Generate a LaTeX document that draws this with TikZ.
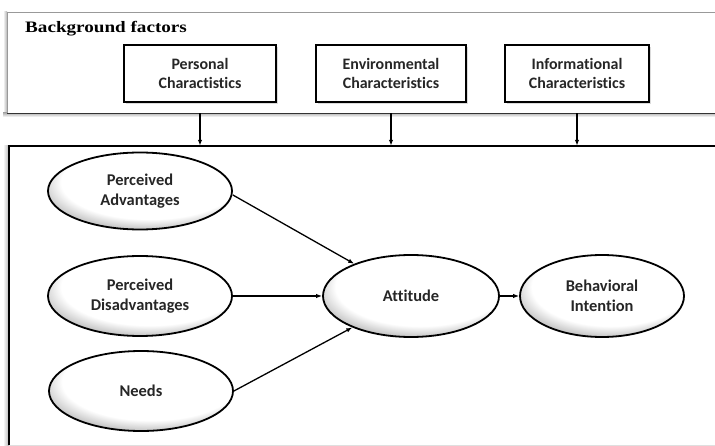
\documentclass[tikz,border=0pt]{standalone}
\usepackage{fontspec}
\setmainfont{Carlito}[Ligatures=CommonOff]
\newfontfamily\bgserif{Liberation Serif}
\usetikzlibrary{shapes.geometric,shadows,arrows.meta}
\pgfdeclareradialshading{ellshade}{\pgfpoint{5bp}{11bp}}{color(0bp)=(white); color(24bp)=(white); color(33bp)=(gray!75); color(50bp)=(gray!75)}
\tikzset{
  factorbox/.style={draw=black, line width=1.5bp, fill=white, minimum height=57bp,
    align=center, inner sep=0pt, text=black!85,
    font=\fontsize{16}{19.5}\selectfont\bfseries,
    drop shadow={shadow xshift=2bp, shadow yshift=-2bp, fill=gray!55}},
  oval/.style={ellipse, draw=black, line width=1.8bp, shade, shading=ellshade, inner sep=0pt,
    align=center, text=black!85, font=\fontsize{16.5}{19.5}\selectfont\bfseries},
  arr/.style={-{Latex[length=6bp,width=4.5bp]}, line width=1.3bp, black},
  framebox/.style={draw=none, fill=white, inner sep=0pt}
}
\begin{document}
\begin{tikzpicture}[x=1bp,y=-1bp]
\useasboundingbox (0,0) rectangle (715,446);
% background factors frame
\fill[left color=white, right color=gray!60] (3,12) rectangle (7,116);
\fill[top color=gray!60, bottom color=white] (3,113) rectangle (725,117);
\node[framebox, minimum width=718bp, minimum height=101bp, draw=gray!80, line width=0.8bp] (bg) at (366,62.5) {};
\draw[black!80, line width=1.2bp] (bg.south west) -- (bg.south east);
\node[anchor=base west, inner sep=0pt, font=\bgserif\bfseries\fontsize{16}{18}\selectfont] (bgl) at (25,33) {\scalebox{1.2}[1]{Background factors}};
\node[factorbox, minimum width=152bp] (pers) at (200,73.5) {Personal\\Charactistics};
\node[factorbox, minimum width=150bp] (env) at (391,73.5) {Environmental\\Characteristics};
\node[factorbox, minimum width=144bp] (info) at (577,73.5) {Informational\\Characteristics};
% main frame
\fill[left color=white, right color=gray!60] (3,146) rectangle (9,446);
\node[framebox, minimum width=716bp, minimum height=299bp] (main) at (367,295.5) {};
\draw[gray!25, line width=0.8bp] (main.south west) -- (main.south east);
\draw[black, line width=1.8bp] (main.south west) -- (main.north west) -- (main.north east);
% arrows from background factors
\draw[arr] (pers.south |- bg.south) -- (pers.south |- main.north);
\draw[arr] (env.south |- bg.south) -- (env.south |- main.north);
\draw[arr] (info.south |- bg.south) -- (info.south |- main.north);
% ovals
\node[oval, minimum width=184bp, minimum height=77bp] (adv) at (140,191) {Perceived\\Advantages};
\node[oval, minimum width=184bp, minimum height=80bp] (dis) at (140,296) {Perceived\\Disadvantages};
\node[oval, minimum width=184bp, minimum height=80bp] (needs) at (141,391) {Needs};
\node[oval, minimum width=176bp, minimum height=82bp] (att) at (411,296) {Attitude};
\node[oval, minimum width=164bp, minimum height=82bp] (beh) at (602,296) {Behavioral\\Intention};
% connectors
\draw[arr] ([yshift=-4bp]adv.east) -- (att);
\draw[arr] (dis) -- (att);
\draw[arr] (needs.east) -- (att);
\draw[arr] (att) -- (beh);
\end{tikzpicture}
\end{document}
